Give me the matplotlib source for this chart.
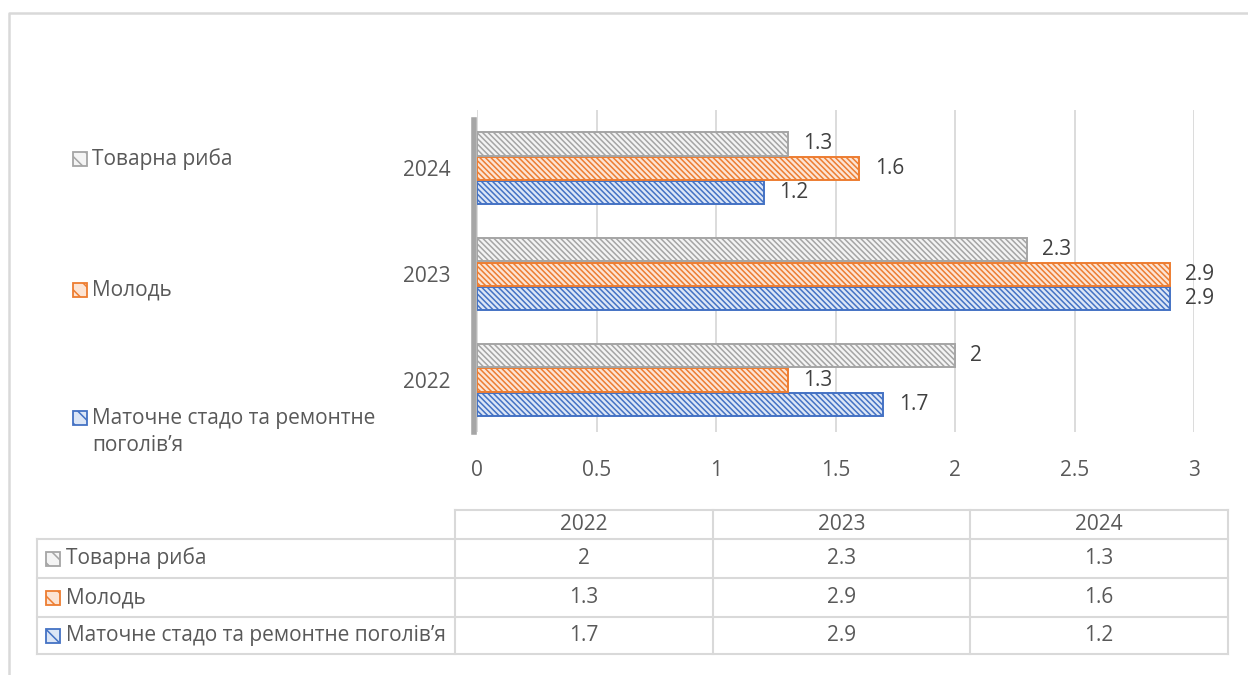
import numpy as np
import matplotlib.pyplot as plt
from matplotlib.patches import Rectangle

plt.rcParams['font.family'] = ['Open Sans', 'DejaVu Sans']
plt.rcParams['hatch.linewidth'] = 1.1

# ---------------- data ----------------
years = ['2022', '2023', '2024']
series_names = ['Маточне стадо та ремонтне поголів’я', 'Молодь', 'Товарна риба']
broodstock = [1.7, 2.9, 1.2]
juveniles = [1.3, 2.9, 1.6]
market_fish = [2.0, 2.3, 1.3]
x_ticks = [0, 0.5, 1, 1.5, 2, 2.5, 3]

# ---------------- styling ----------------
edge_colors = ['#4472C4', '#ED7D31', '#A5A5A5']
face_colors = ['#DCE6F6', '#FCE4D4', '#F4F4F4']
txt_col = '#595959'
lbl_col = '#404040'
grid_col = '#D9D9D9'
fs = 15

W, H = 1248, 675
fig = plt.figure(figsize=(W / 100, H / 100), dpi=100)

# full-figure axes in pixel coords for frame, legend and data table
bg = fig.add_axes([0, 0, 1, 1])
bg.set_xlim(0, W)
bg.set_ylim(H, 0)
bg.axis('off')

# outer frame (left and top edges)
bg.plot([8.5, 8.5, W], [H, 12.5, 12.5], color=grid_col, lw=1.8, solid_capstyle='butt')

# ---------------- bar chart ----------------
x0_px, x3_px = 477, 1194
top_px, bot_px = 110, 432
ax = fig.add_axes([x0_px / W, 1 - bot_px / H, (x3_px - x0_px) / W, (bot_px - top_px) / H])
ax.patch.set_alpha(0)

pos = np.arange(len(years))
all_series = [broodstock, juveniles, market_fish]
offsets = [-0.23, 0.0, 0.23]
bar_h = 0.22

for vals, off, ec, fc in zip(all_series, offsets, edge_colors, face_colors):
    ax.barh(pos + off, vals, height=bar_h, color=fc, edgecolor=ec,
            hatch='\\' * 6, linewidth=1.4, zorder=3)
    for p, v in zip(pos, vals):
        ax.annotate('{:g}'.format(v), (v, p + off), xytext=(11, 0),
                    textcoords='offset points', va='center', ha='left',
                    fontsize=fs, color=lbl_col)

# grey "wall" at x = 0
ax.axvline(-0.012, ymin=0, ymax=0.97, color='#A6A6A6', lw=4, zorder=2, clip_on=False)

ax.set_xlim(0, 3)
ax.set_ylim(-0.49, 2.55)
ax.set_xticks(x_ticks)
ax.set_xticklabels(['{:g}'.format(t) for t in x_ticks])
ax.set_yticks(pos)
ax.set_yticklabels(years)
ax.tick_params(axis='x', length=0, pad=20, labelsize=fs, labelcolor=txt_col)
ax.tick_params(axis='y', length=0, pad=19, labelsize=fs, labelcolor=txt_col)
ax.grid(axis='x', color=grid_col, lw=1.3, zorder=0)
for s in ax.spines.values():
    s.set_visible(False)


def key(x, y, i, hatch='\\\\'):
    bg.add_patch(Rectangle((x, y - 7), 14, 14, facecolor=face_colors[i],
                           edgecolor=edge_colors[i], hatch=hatch, lw=1.3))


# ---------------- legend (left side) ----------------
leg_y = [432, 290, 159]
leg_labels = ['Маточне стадо та ремонтне\nпоголів’я', 'Молодь', 'Товарна риба']
for i, (y, lab) in enumerate(zip(leg_y, leg_labels)):
    if i == 0:
        key(73, 418, i)
    else:
        key(73, y, i)
    bg.text(92, y, lab, fontsize=fs, color=txt_col, va='center', ha='left',
            linespacing=1.35)

# ---------------- data table ----------------
col_x = [37, 455, 713, 970, 1228]
row_y = [510, 539, 578, 617, 654]
lw_t = 1.5

# header row (years only)
bg.plot([col_x[1], col_x[-1]], [row_y[0], row_y[0]], color=grid_col, lw=lw_t)
for y in row_y[1:]:
    bg.plot([col_x[0], col_x[-1]], [y, y], color=grid_col, lw=lw_t)
bg.plot([col_x[0], col_x[0]], [row_y[1], row_y[-1]], color=grid_col, lw=lw_t)
for x in col_x[1:]:
    bg.plot([x, x], [row_y[0], row_y[-1]], color=grid_col, lw=lw_t)

col_c = [(col_x[j] + col_x[j + 1]) / 2 for j in range(1, 4)]
for xc, yr in zip(col_c, years):
    bg.text(xc, (row_y[0] + row_y[1]) / 2, yr, fontsize=fs, color=txt_col,
            ha='center', va='center')

# rows: market fish, juveniles, broodstock
row_order = [2, 1, 0]
for r, i in enumerate(row_order):
    yc = (row_y[r + 1] + row_y[r + 2]) / 2
    key(46, yc, i)
    bg.text(66, yc, series_names[i], fontsize=fs, color=txt_col, ha='left', va='center')
    for xc, v in zip(col_c, all_series[i]):
        bg.text(xc, yc, '{:g}'.format(v), fontsize=fs, color=txt_col,
                ha='center', va='center')

fig.savefig('out.png', dpi=100)
